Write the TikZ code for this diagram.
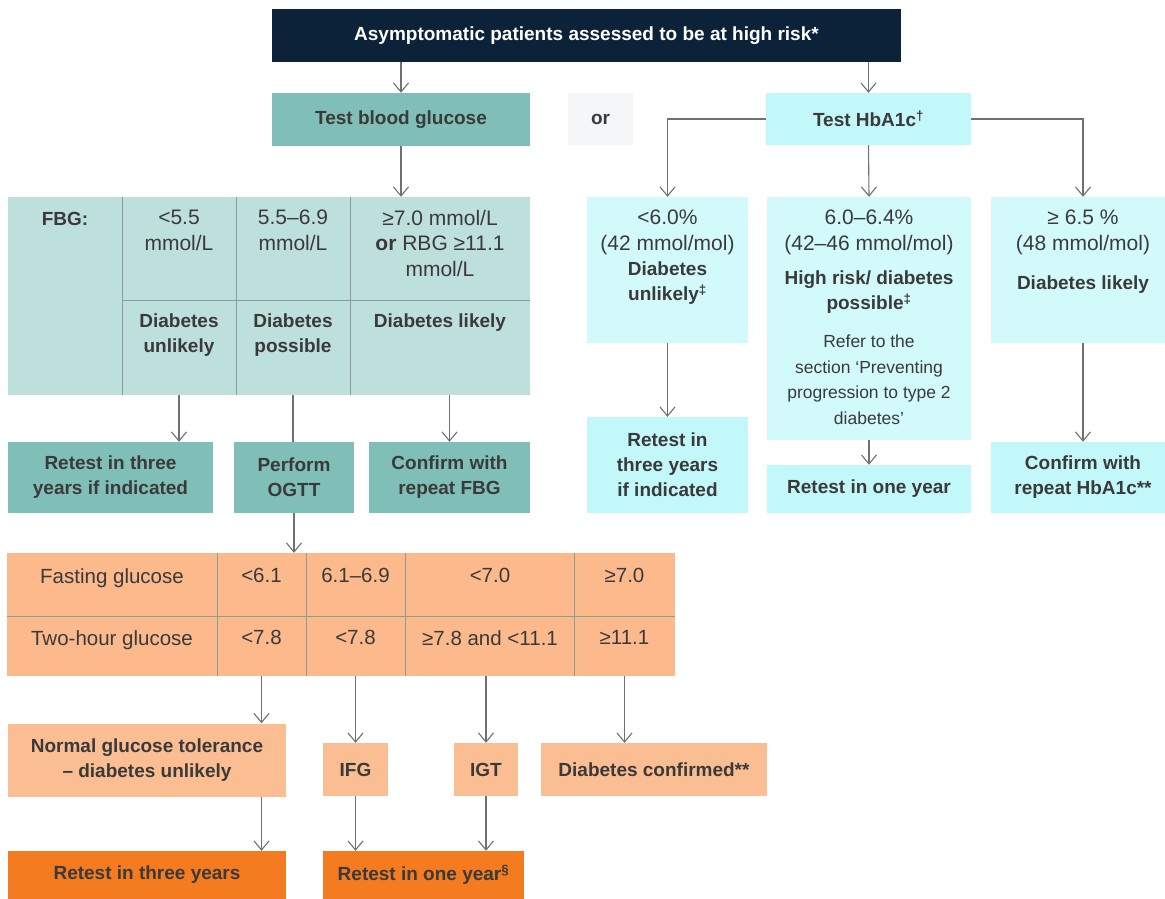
\documentclass[tikz,border=0pt]{standalone}
\usepackage{fontspec}
\setmainfont{Liberation Sans}
\usetikzlibrary{arrows.meta}

\definecolor{navy}{HTML}{0B2239}
\definecolor{tealbox}{HTML}{7FBFB8}
\definecolor{tealpale}{HTML}{BEE0DC}
\definecolor{greypale}{HTML}{F5F6F8}
\definecolor{cyanbox}{HTML}{C3F8FA}
\definecolor{cyanpale}{HTML}{D3FAFB}
\definecolor{peach}{HTML}{FBB98C}
\definecolor{peachbox}{HTML}{FBBE92}
\definecolor{orangebox}{HTML}{F47B20}
\definecolor{ink}{HTML}{3A3A3A}
\definecolor{lineg}{HTML}{707070}
\definecolor{divg}{HTML}{8C9C9A}

\newcommand{\keyfont}{\bfseries\fontsize{19}{25}\selectfont}
\newcommand{\valfont}{\fontsize{21}{25.5}\selectfont}
\newcommand{\tabfont}{\fontsize{20.5}{25}\selectfont}
\newcommand{\notefont}{\fontsize{17.5}{25.5}\selectfont}

\begin{document}
\begin{tikzpicture}[x=1pt, y=-1pt, >={Straight Barb[length=9pt,width=15pt]},
    box/.style={rectangle, inner sep=0pt, align=center, text=ink, font=\keyfont},
    txt/.style={inner sep=0pt, align=center, text=ink, anchor=north},
    key/.style={txt, font=\keyfont},
    val/.style={txt, font=\valfont},
    tab/.style={txt, font=\tabfont},
    note/.style={txt, font=\notefont},
    arr/.style={->, draw=lineg, line width=1.1pt},
    link/.style={draw=lineg, line width=1.1pt},
    div/.style={draw=divg, line width=0.9pt}]
    \useasboundingbox (0,0) rectangle (1165,899);

    % Top row
    \node[box, fill=navy, text=white, minimum width=629pt, minimum height=53pt] (top) at (586.5,35.5) {Asymptomatic patients assessed to be at high risk*};
    \node[box, fill=tealbox, minimum width=258pt, minimum height=53pt] (tbg) at (401,119.5) {Test blood glucose};
    \node[box, fill=greypale, minimum width=65pt, minimum height=52pt] (orbox) at (600.5,119) {or};
    \node[box, fill=cyanbox, minimum width=205pt, minimum height=52pt] (hba) at (868.5,119) {Test HbA1c\textsuperscript{†}};

    % FBG table
    \node[box, fill=tealpale, minimum width=522pt, minimum height=198pt] (fbg) at (269,296) {};
    \foreach \x in {122,236,350} \draw[div] (\x,197) -- (\x,395);
    \draw[div] (122,300) -- (530,300);
    \node[key] (tF) at (65,212) {FBG:};
    \node[val] (t1) at (179,210) {<5.5\\mmol/L};
    \node[val] (t2) at (293,210) {5.5–6.9\\mmol/L};
    \node[val] (t3) at (440,210) {≥7.0 mmol/L\\\textbf{or} RBG ≥11.1\\mmol/L};
    \node[key] (t4) at (179,314) {Diabetes\\unlikely};
    \node[key] (t5) at (293,314) {Diabetes\\possible};
    \node[key] (t6) at (440,314) {Diabetes likely};

    \node[box, fill=tealbox, minimum width=205pt, minimum height=71pt] (ra) at (110.5,477.5) {Retest in three\\years if indicated};
    \node[box, fill=tealbox, minimum width=120pt, minimum height=71pt] (rb) at (294,477.5) {Perform\\OGTT};
    \node[box, fill=tealbox, minimum width=161pt, minimum height=71pt] (rc) at (449.5,477.5) {Confirm with\\repeat FBG};

    % HbA1c results
    \node[box, fill=cyanpale, minimum width=161pt, minimum height=146pt] (b1) at (667.5,270) {};
    \node[box, fill=cyanpale, minimum width=204pt, minimum height=243pt] (b2) at (869,318.5) {};
    \node[box, fill=cyanpale, minimum width=184pt, minimum height=146pt] (b3) at (1083,270) {};
    \node[val] (h1v) at (667.5,210) {<6.0\%\\(42 mmol/mol)};
    \node[key] (h1k) at (667.5,262) {Diabetes\\unlikely\textsuperscript{‡}};
    \node[val] (h2v) at (869,210) {6.0–6.4\%\\(42–46 mmol/mol)};
    \node[key] (h2k) at (869,271) {High risk/ diabetes\\possible\textsuperscript{‡}};
    \node[note] (h2n) at (869,335) {Refer to the\\section ‘Preventing\\progression to type 2\\diabetes’};
    \node[val] (h3v) at (1083,210) {≥ 6.5 \%\\(48 mmol/mol)};
    \node[key] (h3k) at (1083,276) {Diabetes likely};

    \node[box, fill=cyanbox, minimum width=161pt, minimum height=96pt] (r1) at (667.5,465) {Retest in\\three years\\if indicated};
    \node[box, fill=cyanbox, minimum width=204pt, minimum height=48pt] (r2) at (869,489) {Retest in one year};
    \node[box, fill=cyanbox, minimum width=184pt, minimum height=71pt] (r3) at (1083,477.5) {Confirm with\\repeat HbA1c**};

    % OGTT table
    \node[box, fill=peach, minimum width=668pt, minimum height=123pt] (ogt) at (341,614.5) {};
    \foreach \x in {217,306,405,574} \draw[div] (\x,553) -- (\x,676);
    \draw[div] (7,616) -- (675,616);
    \node[tab] (o10) at (112,568) {Fasting glucose};
    \node[tab] (o11) at (261.5,568) {<6.1};
    \node[tab] (o12) at (355.5,568) {6.1–6.9};
    \node[tab] (o13) at (490,568) {<7.0};
    \node[tab] (o14) at (624.5,568) {≥7.0};
    \node[tab] (o20) at (112,630) {Two-hour glucose};
    \node[tab] (o21) at (261.5,630) {<7.8};
    \node[tab] (o22) at (355.5,630) {<7.8};
    \node[tab] (o23) at (490,630) {≥7.8 and <11.1};
    \node[tab] (o24) at (624.5,630) {≥11.1};

    \node[box, fill=peachbox, minimum width=278pt, minimum height=73pt] (ngt) at (147,760) {Normal glucose tolerance\\– diabetes unlikely};
    \node[box, fill=peachbox, minimum width=65pt, minimum height=53pt] (ifg) at (355.5,769.5) {IFG};
    \node[box, fill=peachbox, minimum width=64pt, minimum height=53pt] (igt) at (486,769.5) {IGT};
    \node[box, fill=peachbox, minimum width=226pt, minimum height=53pt] (dc) at (654,769.5) {Diabetes confirmed**};

    \node[box, fill=orangebox, minimum width=278pt, minimum height=48pt] (bot1) at (147,875) {Retest in three years};
    \node[box, fill=orangebox, minimum width=201pt, minimum height=48pt] (bot2) at (423.5,875) {Retest in one year\textsuperscript{§}};

    % Lines
    \draw[arr] (tbg.north |- top.south) -- (tbg.north);
    \draw[arr] (hba.north |- top.south) -- (hba.north);
    \draw[arr] (tbg.south) -- (tbg.south |- fbg.north);
    \draw[arr] (hba.west) -| (b1.north);
    \draw[arr] (hba.south) -- (b2.north);
    \draw[arr] (hba.east) -| (b3.north);

    \draw[arr] (t4 |- fbg.south) -- (t4 |- ra.north);
    \draw[link] (t5 |- fbg.south) -- (t5 |- rb.north);
    \draw[arr] (rc.north |- fbg.south) -- (rc.north);
    \draw[arr] (rb.south) -- (rb.south |- ogt.north);

    \draw[arr] (b1.south) -- (r1.north);
    \draw[arr] (b2.south) -- (r2.north);
    \draw[arr] (b3.south) -- (r3.north);

    \draw[arr] (o21 |- ogt.south) -- (o21 |- ngt.north);
    \draw[arr] (o22 |- ogt.south) -- (ifg.north);
    \draw[arr] (igt.north |- ogt.south) -- (igt.north);
    \draw[arr] (o24 |- ogt.south) -- (o24 |- dc.north);
    \draw[arr] (o21 |- ngt.south) -- (o21 |- bot1.north);
    \draw[arr] (ifg.south) -- (ifg.south |- bot2.north);
    \draw[arr] (igt.south) -- (igt.south |- bot2.north);
\end{tikzpicture}
\end{document}
